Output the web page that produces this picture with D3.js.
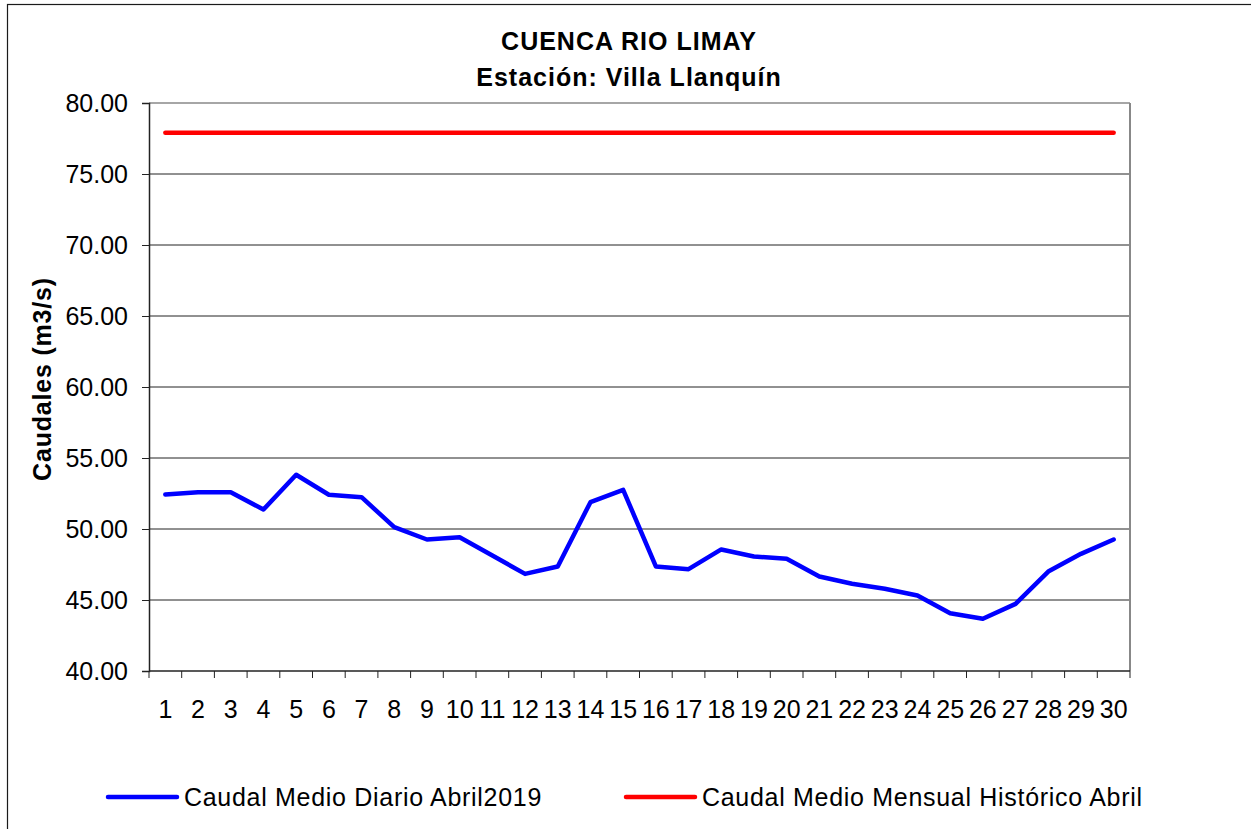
<!DOCTYPE html>
<html>
<head>
<meta charset="utf-8">
<script src="https://cdn.jsdelivr.net/npm/d3@7"></script>
<style>
  html, body { margin: 0; padding: 0; background: #fff; }
  svg { display: block; font-family: Arial, "Liberation Sans", sans-serif; }
</style>
</head>
<body>
<svg id="chart" width="1251" height="829"></svg>
<script>
// Daily flow, April 2019, Villa Llanquín station (m3/s)
const days = d3.range(1, 31).map(String);
const dailyFlow = [
  52.43, 52.59, 52.59, 51.37, 53.82, 52.41, 52.24, 50.13, 49.26, 49.42,
  48.13, 46.84, 47.36, 51.89, 52.76, 47.36, 47.17, 48.56, 48.06, 47.90,
  46.65, 46.14, 45.79, 45.32, 44.07, 43.68, 44.73, 47.00, 48.25, 49.26
];
// Historical monthly mean for April
const historicalMean = days.map(() => 77.9);
const yTicks = [40, 45, 50, 55, 60, 65, 70, 75, 80];
const titleLines = ["CUENCA RIO LIMAY", "Estación: Villa Llanquín"];
const yTitle = "Caudales (m3/s)";
const seriesNames = ["Caudal Medio Diario Abril2019", "Caudal Medio Mensual Histórico Abril"];
const seriesColors = ["#0000ff", "#ff0000"];

const svg = d3.select("#chart");
const plot = { left: 149, right: 1130, top: 103, bottom: 671 };

const x = d3.scaleBand().domain(days).range([plot.left, plot.right]);
const y = d3.scaleLinear().domain([40, 80]).range([plot.bottom, plot.top]);

// Outer chart frame (runs off the right and bottom edges)
svg.append("rect")
  .attr("x", 7.5).attr("y", 4.5)
  .attr("width", 1300).attr("height", 900)
  .attr("fill", "none").attr("stroke", "#1a1a1a").attr("stroke-width", 1.2);

// Horizontal gridlines
svg.append("g")
  .selectAll("line")
  .data(yTicks.filter(t => t > 40 && t < 80))
  .join("line")
  .attr("x1", plot.left).attr("x2", plot.right)
  .attr("y1", d => y(d)).attr("y2", d => y(d))
  .attr("stroke", "#222").attr("stroke-width", 1);

// Plot area border: top and right in grey
svg.append("line")
  .attr("x1", plot.left).attr("x2", plot.right)
  .attr("y1", y(80)).attr("y2", y(80))
  .attr("stroke", "#888").attr("stroke-width", 1.5);
svg.append("line")
  .attr("x1", plot.right).attr("x2", plot.right)
  .attr("y1", plot.top).attr("y2", plot.bottom)
  .attr("stroke", "#888").attr("stroke-width", 2);

// Y axis
const yAxis = svg.append("g")
  .attr("transform", `translate(${plot.left},0)`)
  .call(d3.axisLeft(y).tickValues(yTicks).tickSize(7).tickPadding(14).tickFormat(d3.format(".2f")));
yAxis.select(".domain").attr("stroke", "#222").attr("stroke-width", 1.5);
yAxis.selectAll(".tick line").attr("stroke", "#222");
yAxis.selectAll(".tick text")
  .attr("font-size", 25).attr("fill", "#000")
  .attr("font-family", "Arial, 'Liberation Sans', sans-serif");

// X axis: ticks at category boundaries, labels at centres
const xAxisG = svg.append("g").attr("transform", `translate(0,${plot.bottom})`);
xAxisG.append("line")
  .attr("x1", plot.left).attr("x2", plot.right)
  .attr("stroke", "#222").attr("stroke-width", 1.5);
const bounds = days.map(d => x(d)).concat([x(days[days.length - 1]) + x.bandwidth()]);
xAxisG.selectAll("line.tick")
  .data(bounds)
  .join("line")
  .attr("class", "tick")
  .attr("x1", d => d).attr("x2", d => d)
  .attr("y1", 0).attr("y2", 7)
  .attr("stroke", "#222");
xAxisG.selectAll("text")
  .data(days)
  .join("text")
  .attr("x", d => x(d) + x.bandwidth() / 2)
  .attr("y", 47)
  .attr("text-anchor", "middle")
  .attr("font-size", 25)
  .text(d => d);

// Series lines
const line = d3.line()
  .x((d, i) => x(days[i]) + x.bandwidth() / 2)
  .y(d => y(d));

svg.append("path")
  .datum(historicalMean)
  .attr("d", line)
  .attr("fill", "none")
  .attr("stroke", seriesColors[1])
  .attr("stroke-width", 4.5)
  .attr("stroke-linecap", "round");

svg.append("path")
  .datum(dailyFlow)
  .attr("d", line)
  .attr("fill", "none")
  .attr("stroke", seriesColors[0])
  .attr("stroke-width", 4.5)
  .attr("stroke-linejoin", "round")
  .attr("stroke-linecap", "round");

// Title
svg.append("g")
  .selectAll("text")
  .data(titleLines)
  .join("text")
  .attr("x", 629)
  .attr("y", (d, i) => 50 + i * 36)
  .attr("text-anchor", "middle")
  .attr("font-size", 25)
  .attr("font-weight", "bold")
  .attr("letter-spacing", 1)
  .text(d => d);

// Y axis title
svg.append("text")
  .attr("transform", "translate(51,379) rotate(-90)")
  .attr("text-anchor", "middle")
  .attr("font-size", 25)
  .attr("font-weight", "bold")
  .attr("letter-spacing", 0.8)
  .text(yTitle);

// Legend
const legendItems = [
  { name: seriesNames[0], color: seriesColors[0], x0: 108 },
  { name: seriesNames[1], color: seriesColors[1], x0: 626 }
];
const legend = svg.append("g");
legend.selectAll("line")
  .data(legendItems)
  .join("line")
  .attr("x1", d => d.x0).attr("x2", d => d.x0 + 69)
  .attr("y1", 797).attr("y2", 797)
  .attr("stroke", d => d.color)
  .attr("stroke-width", 4.5)
  .attr("stroke-linecap", "round");
legend.selectAll("text")
  .data(legendItems)
  .join("text")
  .attr("x", d => d.x0 + 76)
  .attr("y", 806)
  .attr("font-size", 25)
  .attr("letter-spacing", 0.7)
  .text(d => d.name);
</script>
</body>
</html>
